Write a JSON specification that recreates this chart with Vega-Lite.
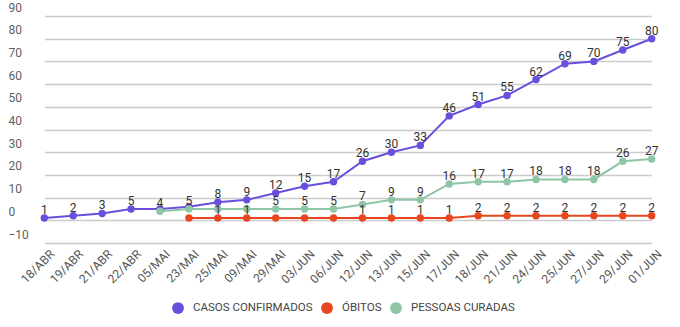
{
  "$schema": "https://vega.github.io/schema/vega-lite/v6.json",
  "autosize": "none",
  "width": 658,
  "height": 227,
  "padding": {"left": 8, "top": 16, "right": 14, "bottom": 84},
  "background": "white",
  "config": {
    "view": {"stroke": null},
    "font": "Roboto",
    "axis": {"labelFont": "Roboto", "labelColor": "#5a5a5a"}
  },
  "data": {
    "values": [
      {"data": "18/ABR", "serie": "CASOS CONFIRMADOS", "valor": 1, "rotulo": "1"},
      {"data": "19/ABR", "serie": "CASOS CONFIRMADOS", "valor": 2, "rotulo": "2"},
      {"data": "21/ABR", "serie": "CASOS CONFIRMADOS", "valor": 3, "rotulo": "3"},
      {"data": "22/ABR", "serie": "CASOS CONFIRMADOS", "valor": 5, "rotulo": "5"},
      {"data": "05/MAI", "serie": "CASOS CONFIRMADOS", "valor": 5, "rotulo": ""},
      {"data": "23/MAI", "serie": "CASOS CONFIRMADOS", "valor": 6, "rotulo": ""},
      {"data": "25/MAI", "serie": "CASOS CONFIRMADOS", "valor": 8, "rotulo": "8"},
      {"data": "09/MAI", "serie": "CASOS CONFIRMADOS", "valor": 9, "rotulo": "9"},
      {"data": "29/MAI", "serie": "CASOS CONFIRMADOS", "valor": 12, "rotulo": "12"},
      {"data": "03/JUN", "serie": "CASOS CONFIRMADOS", "valor": 15, "rotulo": "15"},
      {"data": "06/JUN", "serie": "CASOS CONFIRMADOS", "valor": 17, "rotulo": "17"},
      {"data": "12/JUN", "serie": "CASOS CONFIRMADOS", "valor": 26, "rotulo": "26"},
      {"data": "13/JUN", "serie": "CASOS CONFIRMADOS", "valor": 30, "rotulo": "30"},
      {"data": "15/JUN", "serie": "CASOS CONFIRMADOS", "valor": 33, "rotulo": "33"},
      {"data": "17/JUN", "serie": "CASOS CONFIRMADOS", "valor": 46, "rotulo": "46"},
      {"data": "18/JUN", "serie": "CASOS CONFIRMADOS", "valor": 51, "rotulo": "51"},
      {"data": "21/JUN", "serie": "CASOS CONFIRMADOS", "valor": 55, "rotulo": "55"},
      {"data": "24/JUN", "serie": "CASOS CONFIRMADOS", "valor": 62, "rotulo": "62"},
      {"data": "25/JUN", "serie": "CASOS CONFIRMADOS", "valor": 69, "rotulo": "69"},
      {"data": "27/JUN", "serie": "CASOS CONFIRMADOS", "valor": 70, "rotulo": "70"},
      {"data": "29/JUN", "serie": "CASOS CONFIRMADOS", "valor": 75, "rotulo": "75"},
      {"data": "01/JUN", "serie": "CASOS CONFIRMADOS", "valor": 80, "rotulo": "80"},
      {"data": "23/MAI", "serie": "ÓBITOS", "valor": 1, "rotulo": ""},
      {"data": "25/MAI", "serie": "ÓBITOS", "valor": 1, "rotulo": "1"},
      {"data": "09/MAI", "serie": "ÓBITOS", "valor": 1, "rotulo": "1"},
      {"data": "29/MAI", "serie": "ÓBITOS", "valor": 1, "rotulo": ""},
      {"data": "03/JUN", "serie": "ÓBITOS", "valor": 1, "rotulo": ""},
      {"data": "06/JUN", "serie": "ÓBITOS", "valor": 1, "rotulo": ""},
      {"data": "12/JUN", "serie": "ÓBITOS", "valor": 1, "rotulo": "1"},
      {"data": "13/JUN", "serie": "ÓBITOS", "valor": 1, "rotulo": "1"},
      {"data": "15/JUN", "serie": "ÓBITOS", "valor": 1, "rotulo": "1"},
      {"data": "17/JUN", "serie": "ÓBITOS", "valor": 1, "rotulo": "1"},
      {"data": "18/JUN", "serie": "ÓBITOS", "valor": 2, "rotulo": "2"},
      {"data": "21/JUN", "serie": "ÓBITOS", "valor": 2, "rotulo": "2"},
      {"data": "24/JUN", "serie": "ÓBITOS", "valor": 2, "rotulo": "2"},
      {"data": "25/JUN", "serie": "ÓBITOS", "valor": 2, "rotulo": "2"},
      {"data": "27/JUN", "serie": "ÓBITOS", "valor": 2, "rotulo": "2"},
      {"data": "29/JUN", "serie": "ÓBITOS", "valor": 2, "rotulo": "2"},
      {"data": "01/JUN", "serie": "ÓBITOS", "valor": 2, "rotulo": "2"},
      {"data": "05/MAI", "serie": "PESSOAS CURADAS", "valor": 4, "rotulo": "4"},
      {"data": "23/MAI", "serie": "PESSOAS CURADAS", "valor": 5, "rotulo": "5"},
      {"data": "25/MAI", "serie": "PESSOAS CURADAS", "valor": 5, "rotulo": ""},
      {"data": "09/MAI", "serie": "PESSOAS CURADAS", "valor": 5, "rotulo": ""},
      {"data": "29/MAI", "serie": "PESSOAS CURADAS", "valor": 5, "rotulo": "5"},
      {"data": "03/JUN", "serie": "PESSOAS CURADAS", "valor": 5, "rotulo": "5"},
      {"data": "06/JUN", "serie": "PESSOAS CURADAS", "valor": 5, "rotulo": "5"},
      {"data": "12/JUN", "serie": "PESSOAS CURADAS", "valor": 7, "rotulo": "7"},
      {"data": "13/JUN", "serie": "PESSOAS CURADAS", "valor": 9, "rotulo": "9"},
      {"data": "15/JUN", "serie": "PESSOAS CURADAS", "valor": 9, "rotulo": "9"},
      {"data": "17/JUN", "serie": "PESSOAS CURADAS", "valor": 16, "rotulo": "16"},
      {"data": "18/JUN", "serie": "PESSOAS CURADAS", "valor": 17, "rotulo": "17"},
      {"data": "21/JUN", "serie": "PESSOAS CURADAS", "valor": 17, "rotulo": "17"},
      {"data": "24/JUN", "serie": "PESSOAS CURADAS", "valor": 18, "rotulo": "18"},
      {"data": "25/JUN", "serie": "PESSOAS CURADAS", "valor": 18, "rotulo": "18"},
      {"data": "27/JUN", "serie": "PESSOAS CURADAS", "valor": 18, "rotulo": "18"},
      {"data": "29/JUN", "serie": "PESSOAS CURADAS", "valor": 26, "rotulo": "26"},
      {"data": "01/JUN", "serie": "PESSOAS CURADAS", "valor": 27, "rotulo": "27"}
    ]
  },
  "encoding": {
    "x": {
      "field": "data",
      "type": "ordinal",
      "sort": null,
      "scale": {"type": "point", "range": [36.3, 643.7], "padding": 0},
      "axis": {
        "title": null,
        "domain": false,
        "ticks": false,
        "grid": false,
        "labelAngle": -45,
        "labelAlign": "right",
        "labelBaseline": "top",
        "labelPadding": 5,
        "labelOffset": 4,
        "labelFontSize": 12,
        "labelColor": "#555555"
      }
    },
    "y": {
      "field": "valor",
      "type": "quantitative",
      "scale": {"domain": [-10, 90], "nice": false, "zero": false},
      "axis": {
        "title": null,
        "domain": false,
        "ticks": false,
        "values": [-10, 0, 10, 20, 30, 40, 50, 60, 70, 80, 90],
        "grid": true,
        "gridColor": "#cccccc",
        "gridWidth": 1.5,
        "gridOpacity": 1,
        "labelAlign": "left",
        "labelBaseline": "bottom",
        "labelPadding": 0,
        "labelOffset": -2,
        "labelFontSize": 12,
        "labelColor": "#5f5f5f"
      }
    },
    "color": {
      "field": "serie",
      "type": "nominal",
      "sort": null,
      "scale": {
        "domain": ["CASOS CONFIRMADOS", "ÓBITOS", "PESSOAS CURADAS"],
        "range": ["#6a4fdc", "#e8461e", "#8dc5a5"]
      },
      "legend": {
        "title": null,
        "orient": "none",
        "direction": "horizontal",
        "legendX": 164,
        "legendY": 286,
        "symbolType": "circle",
        "symbolSize": 140,
        "symbolStrokeWidth": 0,
        "labelFont": "Roboto",
        "labelFontSize": 11.5,
        "labelColor": "#444444",
        "labelOffset": 9,
        "columnPadding": 8
      }
    }
  },
  "layer": [
    {"mark": {"type": "line", "strokeWidth": 2}},
    {"mark": {"type": "point", "filled": true, "size": 55, "opacity": 1}},
    {
      "mark": {"type": "text", "baseline": "middle", "dy": -8, "fontSize": 12, "font": "Roboto", "color": "#333333"},
      "encoding": {"text": {"field": "rotulo"}, "color": {"value": "#333333"}}
    }
  ]
}
